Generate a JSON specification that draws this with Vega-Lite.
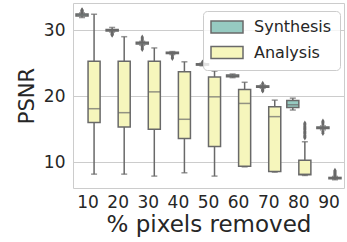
{
  "$schema": "https://vega.github.io/schema/vega-lite/v6.json",
  "width": 271,
  "height": 185,
  "autosize": "none",
  "padding": {"left": 73, "top": 3, "right": 3, "bottom": 54},
  "config": {
    "font": "DejaVu Sans",
    "view": {"stroke": "#cccccc", "strokeWidth": 1},
    "axis": {
      "domain": false,
      "ticks": false,
      "labelColor": "#262626",
      "titleColor": "#262626",
      "labelFont": "DejaVu Sans",
      "titleFont": "DejaVu Sans",
      "titleFontWeight": "normal",
      "gridColor": "#cccccc",
      "gridWidth": 1
    }
  },
  "datasets": {
    "boxes": [
      {"pct": 10, "method": "Synthesis", "lo": 31.9, "q1": 32.15, "med": 32.3, "q3": 32.45, "hi": 32.6},
      {"pct": 20, "method": "Synthesis", "lo": 29.7, "q1": 29.85, "med": 30.0, "q3": 30.1, "hi": 30.4},
      {"pct": 30, "method": "Synthesis", "lo": 27.7, "q1": 27.9, "med": 28.0, "q3": 28.15, "hi": 28.3},
      {"pct": 40, "method": "Synthesis", "lo": 26.3, "q1": 26.45, "med": 26.55, "q3": 26.65, "hi": 26.75},
      {"pct": 50, "method": "Synthesis", "lo": 24.6, "q1": 24.7, "med": 24.8, "q3": 24.9, "hi": 25.0},
      {"pct": 60, "method": "Synthesis", "lo": 22.8, "q1": 22.95, "med": 23.1, "q3": 23.2, "hi": 23.35},
      {"pct": 70, "method": "Synthesis", "lo": 21.2, "q1": 21.35, "med": 21.45, "q3": 21.55, "hi": 21.7},
      {"pct": 80, "method": "Synthesis", "lo": 17.9, "q1": 18.3, "med": 18.7, "q3": 19.35, "hi": 19.7},
      {"pct": 90, "method": "Synthesis", "lo": 14.9, "q1": 15.1, "med": 15.2, "q3": 15.35, "hi": 15.5},
      {"pct": 10, "method": "Analysis", "lo": 8.2, "q1": 16.0, "med": 18.1, "q3": 25.3, "hi": 32.4},
      {"pct": 20, "method": "Analysis", "lo": 8.2, "q1": 15.35, "med": 17.5, "q3": 25.3, "hi": 29.0},
      {"pct": 30, "method": "Analysis", "lo": 7.9, "q1": 15.0, "med": 20.65, "q3": 25.3, "hi": 27.3},
      {"pct": 40, "method": "Analysis", "lo": 8.4, "q1": 13.6, "med": 16.5, "q3": 23.7, "hi": 25.2},
      {"pct": 50, "method": "Analysis", "lo": 7.9, "q1": 12.4, "med": 19.9, "q3": 22.9, "hi": 23.8},
      {"pct": 60, "method": "Analysis", "lo": 9.3, "q1": 9.4, "med": 18.9, "q3": 21.0, "hi": 22.1},
      {"pct": 70, "method": "Analysis", "lo": 8.5, "q1": 8.6, "med": 16.9, "q3": 18.4, "hi": 19.4},
      {"pct": 80, "method": "Analysis", "lo": 8.0, "q1": 8.1, "med": 8.2, "q3": 10.3, "hi": 13.1},
      {"pct": 90, "method": "Analysis", "lo": 7.35, "q1": 7.5, "med": 7.6, "q3": 7.7, "hi": 7.85}
    ],
    "outliers": [
      {"pct": 10, "method": "Synthesis", "v": 32.75},
      {"pct": 10, "method": "Synthesis", "v": 32.85},
      {"pct": 10, "method": "Synthesis", "v": 32.95},
      {"pct": 10, "method": "Synthesis", "v": 33.05},
      {"pct": 20, "method": "Synthesis", "v": 29.55},
      {"pct": 20, "method": "Synthesis", "v": 29.45},
      {"pct": 20, "method": "Synthesis", "v": 29.35},
      {"pct": 20, "method": "Synthesis", "v": 29.25},
      {"pct": 30, "method": "Synthesis", "v": 28.5},
      {"pct": 30, "method": "Synthesis", "v": 28.7},
      {"pct": 30, "method": "Synthesis", "v": 28.9},
      {"pct": 30, "method": "Synthesis", "v": 27.5},
      {"pct": 30, "method": "Synthesis", "v": 27.3},
      {"pct": 30, "method": "Synthesis", "v": 27.1},
      {"pct": 40, "method": "Synthesis", "v": 26.1},
      {"pct": 40, "method": "Synthesis", "v": 25.9},
      {"pct": 40, "method": "Synthesis", "v": 25.75},
      {"pct": 50, "method": "Synthesis", "v": 25.15},
      {"pct": 70, "method": "Synthesis", "v": 21.9},
      {"pct": 70, "method": "Synthesis", "v": 21.0},
      {"pct": 70, "method": "Synthesis", "v": 20.9},
      {"pct": 70, "method": "Synthesis", "v": 20.8},
      {"pct": 90, "method": "Synthesis", "v": 15.8},
      {"pct": 90, "method": "Synthesis", "v": 16.0},
      {"pct": 90, "method": "Synthesis", "v": 16.2},
      {"pct": 90, "method": "Synthesis", "v": 14.6},
      {"pct": 90, "method": "Synthesis", "v": 14.4},
      {"pct": 80, "method": "Analysis", "v": 13.7},
      {"pct": 80, "method": "Analysis", "v": 13.9},
      {"pct": 80, "method": "Analysis", "v": 14.1},
      {"pct": 80, "method": "Analysis", "v": 14.3},
      {"pct": 80, "method": "Analysis", "v": 14.5},
      {"pct": 80, "method": "Analysis", "v": 14.7},
      {"pct": 80, "method": "Analysis", "v": 14.9},
      {"pct": 80, "method": "Analysis", "v": 15.1},
      {"pct": 80, "method": "Analysis", "v": 15.3},
      {"pct": 80, "method": "Analysis", "v": 15.5},
      {"pct": 80, "method": "Analysis", "v": 15.7},
      {"pct": 80, "method": "Analysis", "v": 15.9},
      {"pct": 90, "method": "Analysis", "v": 8.0},
      {"pct": 90, "method": "Analysis", "v": 8.15},
      {"pct": 90, "method": "Analysis", "v": 8.3},
      {"pct": 90, "method": "Analysis", "v": 8.45},
      {"pct": 90, "method": "Analysis", "v": 8.6},
      {"pct": 90, "method": "Analysis", "v": 8.75}
    ]
  },
  "encoding": {
    "x": {
      "field": "pct",
      "type": "ordinal",
      "sort": [10, 20, 30, 40, 50, 60, 70, 80, 90],
      "scale": {"paddingInner": 0.2, "paddingOuter": 0.1},
      "axis": {
        "title": "% pixels removed",
        "labelAngle": 0,
        "labelFontSize": 17,
        "labelPadding": 6,
        "titleFontSize": 23,
        "titlePadding": 3,
        "grid": false
      }
    },
    "xOffset": {
      "field": "method",
      "type": "nominal",
      "sort": ["Synthesis", "Analysis"],
      "scale": {"paddingInner": 0, "paddingOuter": 0}
    }
  },
  "layer": [
    {
      "data": {"name": "boxes"},
      "mark": {"type": "rule", "color": "#696969", "strokeWidth": 1.5},
      "encoding": {
        "y": {
          "field": "lo",
          "type": "quantitative",
          "scale": {"domain": [6.1, 34.1], "nice": false, "zero": false},
          "axis": {
            "title": "PSNR",
            "values": [10, 20, 30],
            "labelFontSize": 17,
            "labelPadding": 8,
            "titleFontSize": 21,
            "titlePadding": 6,
            "grid": true
          }
        },
        "y2": {"field": "hi"}
      }
    },
    {
      "data": {"name": "boxes"},
      "mark": {"type": "bar", "stroke": "#696969", "strokeWidth": 1.5},
      "encoding": {
        "y": {"field": "q1", "type": "quantitative"},
        "y2": {"field": "q3"},
        "color": {
          "field": "method",
          "type": "nominal",
          "sort": ["Synthesis", "Analysis"],
          "scale": {"domain": ["Synthesis", "Analysis"], "range": ["#96cac1", "#f6f6bc"]},
          "legend": {
            "title": null,
            "orient": "none",
            "legendX": 130,
            "legendY": 8,
            "symbolType": "M-1.333,-1H4V1H-1.333Z",
            "symbolSize": 144,
            "symbolStrokeColor": "#696969",
            "symbolStrokeWidth": 1.5,
            "symbolOpacity": 1,
            "labelFontSize": 16,
            "labelColor": "#262626",
            "labelFont": "DejaVu Sans",
            "labelOffset": 27,
            "padding": 8,
            "rowPadding": 7.5,
            "strokeColor": "#cccccc",
            "fillColor": "rgba(255,255,255,0.8)",
            "cornerRadius": 4
          }
        }
      }
    },
    {
      "data": {"name": "boxes"},
      "mark": {"type": "tick", "color": "#696969", "thickness": 1.5, "size": 12, "orient": "horizontal"},
      "encoding": {"y": {"field": "med", "type": "quantitative"}}
    },
    {
      "data": {"name": "boxes"},
      "mark": {"type": "tick", "color": "#696969", "thickness": 1.5, "size": 6, "orient": "horizontal"},
      "encoding": {"y": {"field": "lo", "type": "quantitative"}}
    },
    {
      "data": {"name": "boxes"},
      "mark": {"type": "tick", "color": "#696969", "thickness": 1.5, "size": 6, "orient": "horizontal"},
      "encoding": {"y": {"field": "hi", "type": "quantitative"}}
    },
    {
      "data": {"name": "outliers"},
      "mark": {"type": "point", "shape": "M0,-1L0.6,0L0,1L-0.6,0Z", "size": 30, "filled": true, "color": "#696969", "opacity": 1},
      "encoding": {"y": {"field": "v", "type": "quantitative"}}
    }
  ]
}
